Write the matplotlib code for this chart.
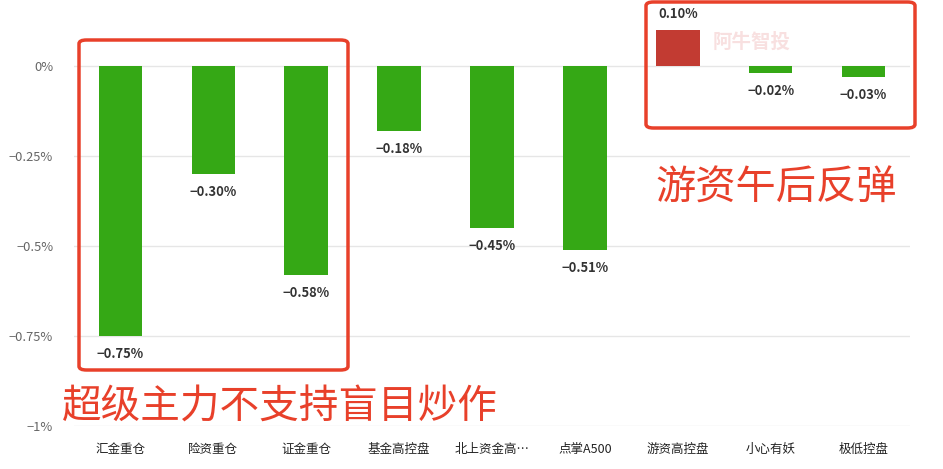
import matplotlib
matplotlib.use("Agg")
import matplotlib.pyplot as plt
from matplotlib.patches import FancyBboxPatch

plt.rcParams['font.family'] = ['Noto Sans CJK SC', 'DejaVu Sans']

categories = ["汇金重仓", "险资重仓", "证金重仓", "基金高控盘", "北上资金高…",
              "点掌A500", "游资高控盘", "小心有妖", "极低控盘"]
values = [-0.75, -0.30, -0.58, -0.18, -0.45, -0.51, 0.10, -0.02, -0.03]
yticks = [0, -0.25, -0.5, -0.75, -1]
ytick_labels = ["0%", "\u22120.25%", "\u22120.5%", "\u22120.75%", "\u22121%"]

W, H = 943, 469
fig = plt.figure(figsize=(W / 100, H / 100), dpi=100)
ax = fig.add_axes([74 / W, (H - 426) / H, 836 / W, 425 / H])

green = "#35a815"
red = "#c23b32"
x = list(range(len(categories)))
colors = [red if v > 0 else green for v in values]
ax.bar(x, values, width=0.47, color=colors, zorder=3)

for xi, v in zip(x, values):
    lab = ("%.2f%%" % v).replace("-", "\u2212")
    if v < 0:
        ax.annotate(lab, (xi, v), xytext=(0, -8), textcoords="offset points",
                    ha="center", va="top", fontsize=9.3, fontweight="bold", color="#333333")
    else:
        ax.annotate(lab, (xi, v), xytext=(0, 6), textcoords="offset points",
                    ha="center", va="bottom", fontsize=9.3, fontweight="bold", color="#333333")

ax.set_xlim(-0.5, len(categories) - 0.5)
ax.set_ylim(-1, 0.18)
ax.set_yticks(yticks)
ax.set_yticklabels(ytick_labels, color="#666666", fontsize=9.3)
ax.set_xticks(x)
ax.set_xticklabels(categories, color="#222222", fontsize=9)
ax.tick_params(axis="both", length=0)
ax.tick_params(axis="y", pad=15)
ax.tick_params(axis="x", pad=12)
ax.grid(axis="y", color="#e6e6e6", linewidth=1, zorder=0)
for s in ax.spines.values():
    s.set_visible(False)

# watermark
fig.text(752 / W, 1 - 42 / H, "阿牛智投", fontsize=14, fontweight="bold",
         color="#f6d3d3", alpha=0.7, ha="center", va="center")

# red annotation boxes
def box(x0, y0, x1, y1):
    p = FancyBboxPatch((x0 / W, 1 - y1 / H), (x1 - x0) / W, (y1 - y0) / H,
                       boxstyle="round,pad=0,rounding_size=0.008",
                       transform=fig.transFigure, fill=False,
                       edgecolor="#e8402a", linewidth=2.5, zorder=10)
    fig.patches.append(p)

box(79, 40, 348, 370)
box(646, 2, 915, 128)

fig.text(62 / W, 1 - 408 / H, "超级主力不支持盲目炒作", fontsize=28.5,
         color="#e8402a", ha="left", va="center")
fig.text(655 / W, 1 - 188 / H, "游资午后反弹", fontsize=29,
         color="#e8402a", ha="left", va="center")

fig.savefig("out.png", dpi=100)
